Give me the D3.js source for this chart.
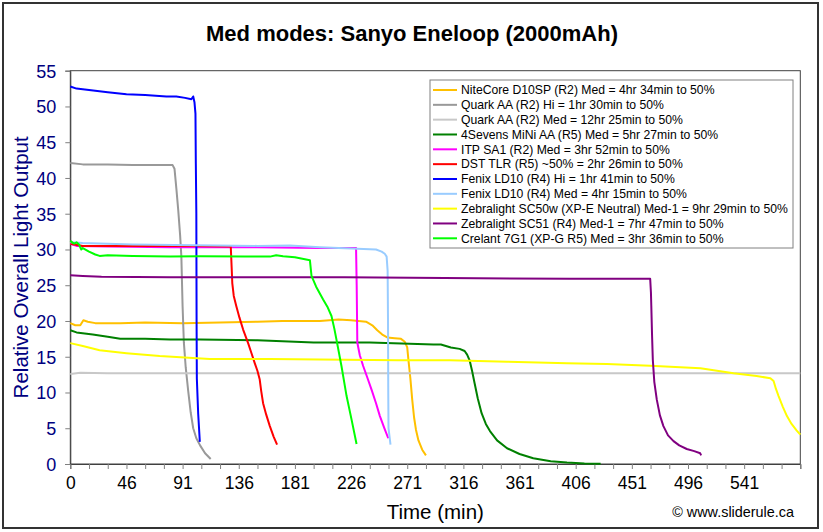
<!DOCTYPE html>
<html>
<head>
<meta charset="utf-8">
<script src="https://cdn.jsdelivr.net/npm/d3@7"></script>
<style>
  html, body { margin: 0; padding: 0; background: #fff; }
  svg { display: block; font-family: "Liberation Sans", Arial, sans-serif; }
</style>
</head>
<body>
<svg id="chart" width="823" height="532"></svg>
<script>
// ---------- DATA (time in minutes, relative output) ----------
const chartTitle = "Med modes: Sanyo Eneloop (2000mAh)";
const xTitle = "Time (min)";
const yTitle = "Relative Overall Light Output";
const credit = "© www.sliderule.ca";

const xTickPositions = [0, 45, 90, 135, 180, 225, 270, 315, 360, 405, 450, 495, 540];
const xTickLabels = ["0", "46", "91", "136", "181", "226", "271", "316", "361", "406", "451", "496", "541"];
const yTicks = [0, 5, 10, 15, 20, 25, 30, 35, 40, 45, 50, 55];

const seriesNames = [
  "NiteCore D10SP (R2) Med = 4hr 34min to 50%",
  "Quark AA (R2) Hi = 1hr 30min to 50%",
  "Quark AA (R2) Med = 12hr 25min to 50%",
  "4Sevens MiNi AA (R5) Med = 5hr 27min to 50%",
  "ITP SA1 (R2) Med = 3hr 52min to 50%",
  "DST TLR (R5) ~50% = 2hr 26min to 50%",
  "Fenix LD10 (R4) Hi = 1hr 41min to 50%",
  "Fenix LD10 (R4) Med = 4hr 15min to 50%",
  "Zebralight SC50w (XP-E Neutral) Med-1 = 9hr 29min to 50%",
  "Zebralight SC51 (R4) Med-1 = 7hr 47min to 50%",
  "Crelant 7G1 (XP-G R5) Med = 3hr 36min to 50%"
];
const seriesColors = ["#FFC000", "#999999", "#C8C8C8", "#008000", "#FF00FF", "#FF0000",
                      "#0000FF", "#99CCFF", "#FFFF00", "#800080", "#00FF00"];

const niteCore = [[0,19.7],[4,19.4],[8,19.4],[10.5,20.1],[14,19.9],[20,19.7],[40,19.7],[60,19.8],[90,19.7],
  [120,19.8],[150,19.9],[170,20.0],[200,20.0],[215,20.2],[225,20.1],[237,19.9],[242,19.4],[246,18.7],
  [250,18.1],[254,17.7],[260,17.6],[265,17.5],[268,17.1],[270,16.3],[271,14.5],[272.5,12.0],[274,9.0],
  [275.5,6.5],[277,4.8],[279,3.3],[282,2.0],[285,1.2]];
const quarkHi = [[0,42.1],[10,41.9],[30,41.9],[50,41.8],[70,41.8],[82,41.8],[83.5,41.3],[85,38.5],
  [86.5,35.5],[88,32],[89,29],[90,22],[91,17],[92.5,13.5],[94.5,10.2],[96.5,7.2],[98.5,5.0],[101,3.6],
  [104,2.6],[108,1.5],[112.5,0.7]];
const quarkMed = [[0,12.6],[8,12.75],[30,12.7],[200,12.7],[400,12.7],[585,12.7]];
const sevensMini = [[0,18.7],[5,18.4],[18,18.1],[30,17.8],[40,17.5],[60,17.5],[80,17.4],[104,17.4],
  [150,17.3],[195,17.0],[240,17.0],[291,16.7],[297,16.7],[305,16.3],[312,16.1],[316,15.8],[318,15.3],
  [320,14.5],[322,13.0],[324,11.3],[326.5,9.2],[329.6,7.1],[333,5.6],[336.3,4.6],[342,3.3],[350,2.2],
  [360,1.4],[371,0.8],[385,0.4],[398,0.2],[412,0.08],[425,0.02]];
const itpSa1 = [[0,30.8],[5,30.5],[30,30.4],[80,30.3],[150,30.3],[200,30.2],[229,30.2],[229.5,25],
  [230,17],[232,15.2],[234.7,13.7],[238,12.1],[241.4,10.4],[245,8.5],[248.1,6.7],[251.5,5.1],[254.8,3.6]];
const dstTlr = [[0,30.8],[10,30.5],[40,30.5],[100,30.5],[128.6,30.4],[129.3,27.5],[129.8,25.3],
  [131,23.5],[133,22.1],[135.5,20.5],[138.5,18.8],[142.5,16.9],[145,15.6],[147.8,14.1],[150,13.0],
  [151.8,11.8],[153,10.2],[154.5,8.5],[157,6.9],[159.9,5.3],[163,3.8],[165.7,2.7]];
const fenixHi = [[0,52.8],[5,52.5],[15,52.3],[30,52.0],[45,51.7],[60,51.6],[77,51.4],[85,51.4],
  [92,51.2],[97,51.0],[98.5,51.4],[99.5,50.6],[100.3,49],[100.6,42],[101,35],[101.2,20],[101.4,12],
  [102.5,7],[103.8,3.1]];
const fenixMed = [[0,31.0],[10,30.9],[50,30.7],[100,30.6],[150,30.5],[176,30.55],[200,30.3],[230,30.1],
  [245,30.0],[249.5,29.7],[252,29.4],[253.5,29.0],[254.3,27],[254.6,20],[254.8,10],[255,5],[256.6,2.7]];
const zlSc50w = [[0,16.9],[10,16.5],[23.5,15.9],[45,15.5],[71.6,15.1],[111.7,14.7],[160,14.7],
  [200,14.6],[263,14.5],[304,14.5],[350,14.3],[398,14.1],[430,14.0],[464.7,13.75],[505,13.4],
  [531.5,12.7],[550,12.3],[561,12.0],[563.6,11.6],[565.5,10.5],[567.6,9.5],[571,8.0],[574.3,6.7],
  [578,5.6],[582,4.7],[585,4.1]];
const zlSc51 = [[0,26.4],[10,26.3],[25,26.2],[80,26.1],[150,26.1],[220,26.1],[300,26.0],[400,25.9],
  [464.7,25.9],[465.3,24],[465.6,22.1],[466.2,18],[466.8,14.6],[468,11.5],[470,9.0],[472.5,6.8],
  [475.3,5.3],[479,4.0],[483.4,3.2],[488,2.6],[494,2.1],[500,1.8],[504.8,1.5],[505.5,1.2]];
const crelant = [[0,31.2],[3,30.8],[5,31.0],[7,30.7],[8.8,30.0],[10,30.2],[15,29.7],[20,29.3],
  [23.5,29.1],[30,29.2],[50,29.1],[80,29.0],[104,29.05],[140,29.0],[160,29.0],[165,29.2],[170.5,29.05],
  [180,28.9],[192,28.5],[193.3,26.3],[197,24.8],[202.6,23.0],[206,22.0],[209.3,20.7],[211.5,19.0],
  [213.3,17.4],[217.3,13.7],[221.4,9.5],[225.4,6.2],[229.4,2.8]];

const seriesData = [niteCore, quarkHi, quarkMed, sevensMini, itpSa1, dstTlr, fenixHi, fenixMed,
                    zlSc50w, zlSc51, crelant];

// ---------- LAYOUT ----------
const plot = { left: 70.3, right: 800.3, top: 70.7, bottom: 464 };
const svg = d3.select("#chart");

// outer frame
svg.append("rect").attr("x", 3).attr("y", 3).attr("width", 815).attr("height", 525)
  .attr("fill", "#fff").attr("stroke", "#333").attr("stroke-width", 2);

const x = d3.scaleLinear().domain([0, 585]).range([plot.left, plot.right]);
const y = d3.scaleLinear().domain([0, 55]).range([plot.bottom, plot.top]);

// plot area
svg.append("rect").attr("x", plot.left).attr("y", plot.top)
  .attr("width", plot.right - plot.left).attr("height", plot.bottom - plot.top)
  .attr("fill", "#fff").attr("stroke", "#404040").attr("stroke-width", 1);

// title
svg.append("text").attr("x", 412).attr("y", 41).attr("text-anchor", "middle")
  .attr("font-size", 22).attr("font-weight", "bold").attr("fill", "#000").text(chartTitle);

// y axis
const yAxis = d3.axisLeft(y).tickValues(yTicks).tickSize(5).tickPadding(9);
const gy = svg.append("g").attr("transform", `translate(${plot.left},0)`).call(yAxis);
gy.select(".domain").attr("stroke", "#404040");
gy.selectAll(".tick line").attr("stroke", "#808080");
gy.selectAll(".tick text").attr("fill", "#000080").attr("font-size", 18)
  .attr("font-family", "'Liberation Sans', Arial, sans-serif").attr("dy", "0.36em");

// x axis
const xMinor = d3.range(0, 586, 15);
const gxm = svg.append("g").attr("transform", `translate(0,${plot.bottom})`)
  .call(d3.axisBottom(x).tickValues(xMinor).tickSize(5).tickFormat(""));
gxm.select(".domain").attr("stroke", "#404040");
gxm.selectAll(".tick line").attr("stroke", "#808080");
const gx = svg.append("g").attr("transform", `translate(0,${plot.bottom})`)
  .call(d3.axisBottom(x).tickValues(xTickPositions).tickSize(0).tickPadding(18)
    .tickFormat((d, i) => xTickLabels[i]));
gx.select(".domain").remove();
gx.selectAll(".tick text").attr("fill", "#000").attr("font-size", 17.5)
  .attr("font-family", "'Liberation Sans', Arial, sans-serif").attr("dy", "0.71em")
  .attr("y", 13);

// axis titles
svg.append("text").attr("x", (plot.left + plot.right) / 2).attr("y", 519)
  .attr("text-anchor", "middle").attr("font-size", 20.5).attr("fill", "#000").text(xTitle);
svg.append("text").attr("transform", `translate(28,${(plot.top + plot.bottom) / 2}) rotate(-90)`)
  .attr("text-anchor", "middle").attr("font-size", 20.5).attr("fill", "#000080").text(yTitle);

// credit
svg.append("text").attr("x", 794).attr("y", 517).attr("text-anchor", "end")
  .attr("font-size", 14.4).attr("fill", "#000").text(credit);

// lines
const line = d3.line().x(d => x(d[0])).y(d => y(d[1]));
const gl = svg.append("g");
seriesData.forEach((s, i) => {
  gl.append("path").datum(s).attr("d", line).attr("fill", "none")
    .attr("stroke", seriesColors[i]).attr("stroke-width", 2).attr("stroke-linejoin", "round");
});

// legend
const lg = svg.append("g");
lg.append("rect").attr("x", 430).attr("y", 80).attr("width", 363).attr("height", 168)
  .attr("fill", "#fff").attr("stroke", "#808080").attr("stroke-width", 1);
seriesNames.forEach((name, i) => {
  const cy = 90 + i * 14.83;
  lg.append("line").attr("x1", 433).attr("x2", 457).attr("y1", cy).attr("y2", cy)
    .attr("stroke", seriesColors[i]).attr("stroke-width", 2);
  lg.append("text").attr("x", 461).attr("y", cy + 4.3).attr("font-size", 12.2)
    .attr("fill", "#000").text(name);
});
</script>
</body>
</html>
